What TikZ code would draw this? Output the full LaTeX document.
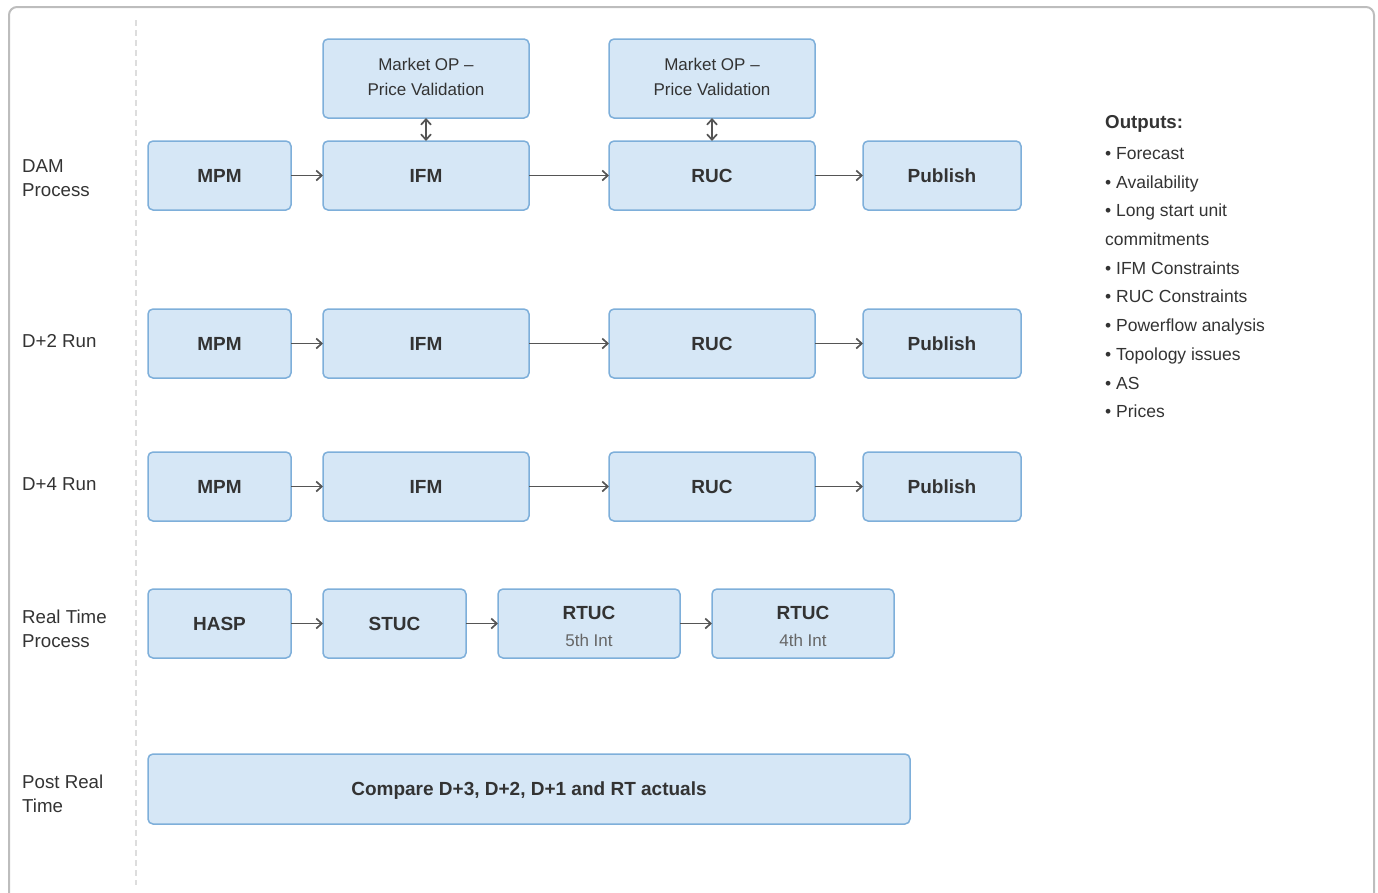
\documentclass[tikz,border=0pt]{standalone}
\usepackage{fontspec}
\setmainfont{Liberation Sans}
\usepackage{xcolor}
\usetikzlibrary{arrows.meta}
\definecolor{boxfill}{HTML}{D6E7F6}
\definecolor{boxline}{HTML}{7EAFDA}
\definecolor{ink}{HTML}{333333}
\definecolor{subink}{HTML}{666666}
\definecolor{arrowc}{HTML}{555555}
\definecolor{framec}{HTML}{BDBDBD}
\definecolor{sepc}{HTML}{DDDDDD}

\begin{document}
\begin{tikzpicture}[x=1pt,y=-1pt,
	stage/.style={draw=boxline,fill=boxfill,line width=1.5pt,rounded corners=5pt,
		minimum height=69pt,inner sep=0pt,outer sep=0pt,align=center,text=ink,
		font=\fontsize{19}{23}\selectfont\bfseries},
	note/.style={stage,minimum height=79pt,font=\fontsize{17}{25}\selectfont},
	flow/.style={-{Straight Barb[length=5.5pt,width=10pt]},draw=arrowc,line width=1.7pt},
	rowlabel/.style={anchor=west,align=left,inner sep=0pt,text=ink,
		font=\fontsize{18.7}{24}\selectfont}]
	\useasboundingbox (0,0) rectangle (1378,892);
	\draw[framec,line width=2pt,rounded corners=8pt] (9,7) rectangle (1374,910);
	\draw[sepc,line width=1.5pt,dash pattern=on 6pt off 4pt] (136,20) -- (136,885);
	%
	\node[rowlabel] (lbldam) at (22,178) {DAM\\Process};
	\node[rowlabel] (lbld2) at (22,341) {D+2 Run};
	\node[rowlabel] (lbld4) at (22,484) {D+4 Run};
	\node[rowlabel] (lblrt) at (22,629) {Real Time\\Process};
	\node[rowlabel] (lblpost) at (22,794) {Post Real\\Time};
	%
	\node[note,minimum width=206pt] (mop1) at (426,78.5)
		{Market OP --\\Price Validation\rule[-4pt]{0pt}{4pt}};
	\node[note,minimum width=206pt] (mop2) at (712,78.5)
		{Market OP --\\Price Validation\rule[-4pt]{0pt}{4pt}};
	%
	\node[stage,minimum width=143pt] (mpm1) at (219.5,175.5) {MPM};
	\node[stage,minimum width=206pt] (ifm1) at (426,175.5) {IFM};
	\node[stage,minimum width=206pt] (ruc1) at (712,175.5) {RUC};
	\node[stage,minimum width=158pt] (pub1) at (942,175.5) {Publish};
	%
	\node[stage,minimum width=143pt] (mpm2) at (219.5,343.5) {MPM};
	\node[stage,minimum width=206pt] (ifm2) at (426,343.5) {IFM};
	\node[stage,minimum width=206pt] (ruc2) at (712,343.5) {RUC};
	\node[stage,minimum width=158pt] (pub2) at (942,343.5) {Publish};
	%
	\node[stage,minimum width=143pt] (mpm3) at (219.5,486.5) {MPM};
	\node[stage,minimum width=206pt] (ifm3) at (426,486.5) {IFM};
	\node[stage,minimum width=206pt] (ruc3) at (712,486.5) {RUC};
	\node[stage,minimum width=158pt] (pub3) at (942,486.5) {Publish};
	%
	\node[stage,minimum width=143pt] (hasp) at (219.5,623.5) {HASP};
	\node[stage,minimum width=143pt] (stuc) at (394.5,623.5) {STUC};
	\node[stage,minimum width=182pt] (rt5) at (589,623.5)
		{\rule{0pt}{19.5pt}RTUC\\[4pt]{\fontsize{17}{20}\selectfont\mdseries\color{subink}5th Int}};
	\node[stage,minimum width=182pt] (rt4) at (803,623.5)
		{\rule{0pt}{19.5pt}RTUC\\[4pt]{\fontsize{17}{20}\selectfont\mdseries\color{subink}4th Int}};
	%
	\node[stage,minimum width=762pt,minimum height=70pt,text depth=0pt] (cmp) at (529,789)
		{Compare D+3, D+2, D+1 and RT actuals};
	%
	\node[anchor=north west,align=left,inner sep=0pt,text=ink,
		font=\fontsize{17.5}{28.7}\selectfont] (outs) at (1105,115.5)
		{{\fontsize{18.7}{24}\selectfont\bfseries Outputs:}\\[2pt]
		• Forecast\\ • Availability\\ • Long start unit\\ commitments\\
		• IFM Constraints\\ • RUC Constraints\\ • Powerflow analysis\\
		• Topology issues\\ • AS\\ • Prices};
	%
	\draw[flow,{Straight Barb[length=5.5pt,width=10pt]}-{Straight Barb[length=5.5pt,width=10pt]}]
		(mop1) -- (ifm1);
	\draw[flow,{Straight Barb[length=5.5pt,width=10pt]}-{Straight Barb[length=5.5pt,width=10pt]}]
		(mop2) -- (ruc1);
	\draw[flow] (mpm1) -- (ifm1);
	\draw[flow] (ifm1) -- (ruc1);
	\draw[flow] (ruc1) -- (pub1);
	\draw[flow] (mpm2) -- (ifm2);
	\draw[flow] (ifm2) -- (ruc2);
	\draw[flow] (ruc2) -- (pub2);
	\draw[flow] (mpm3) -- (ifm3);
	\draw[flow] (ifm3) -- (ruc3);
	\draw[flow] (ruc3) -- (pub3);
	\draw[flow] (hasp) -- (stuc);
	\draw[flow] (stuc) -- (rt5);
	\draw[flow] (rt5) -- (rt4);
\end{tikzpicture}
\end{document}
